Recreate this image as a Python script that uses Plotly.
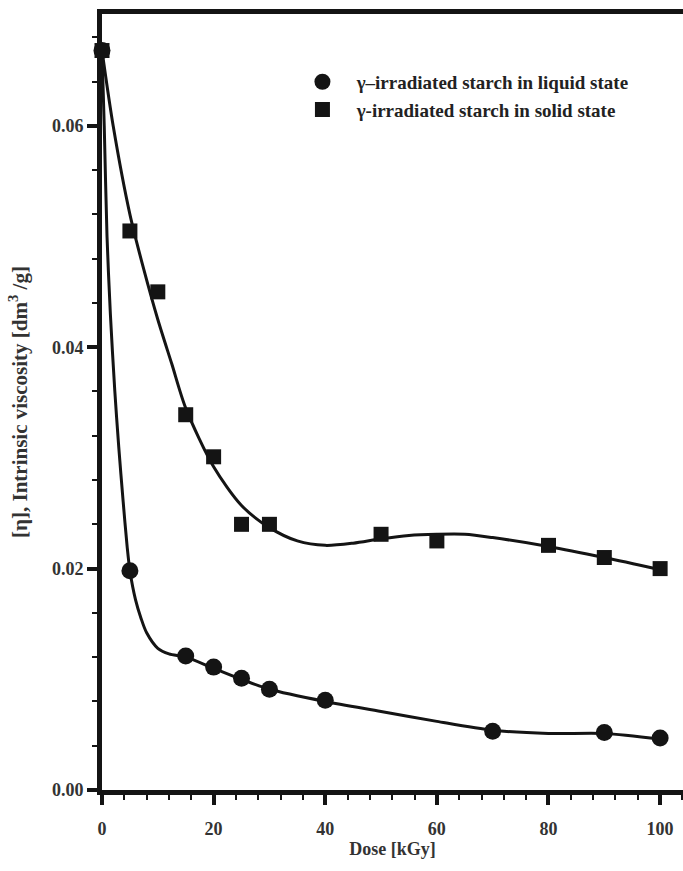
import plotly.graph_objects as go

# Measured points
dose_liquid = [0, 5, 15, 20, 25, 30, 40, 70, 90, 100]
visc_liquid = [0.0668, 0.0198, 0.0121, 0.0111, 0.0101, 0.0091, 0.0081, 0.0053, 0.0052, 0.0047]
dose_solid = [0, 5, 10, 15, 20, 25, 30, 50, 60, 80, 90, 100]
visc_solid = [0.0668, 0.0505, 0.0450, 0.0339, 0.0301, 0.0240, 0.0240, 0.0231, 0.0225, 0.0221, 0.0210, 0.0200]

# Fitted curves
fit_liquid_x = [0, 0.4, 0.9, 1.5, 2.3, 3.0, 3.8, 4.5, 5, 6, 7, 8, 10, 12, 15, 20, 25, 30, 40, 50, 60, 70, 80, 90, 100]
fit_liquid_y = [0.0668, 0.060, 0.050, 0.043, 0.036, 0.031, 0.026, 0.022, 0.0198, 0.0172, 0.0155, 0.0142, 0.0128,
                0.0123, 0.0120, 0.0110, 0.0100, 0.0091, 0.0080, 0.0071, 0.0062, 0.0054, 0.0051, 0.0051, 0.0046]
fit_solid_x = [0, 2, 5, 7.5, 10, 12.5, 15, 20, 25, 30, 35, 40, 45, 50, 55, 60, 65, 70, 80, 90, 100]
fit_solid_y = [0.0668, 0.060, 0.0520, 0.0470, 0.0425, 0.0385, 0.0345, 0.0292, 0.0257, 0.0237, 0.0225, 0.0221,
               0.0223, 0.0227, 0.0230, 0.0231, 0.0231, 0.0228, 0.0220, 0.0210, 0.0199]

legend_liquid = "γ–irradiated starch in liquid state"
legend_solid = "γ-irradiated starch in solid state"
x_title = "Dose [kGy]"
y_title = "[η], Intrinsic viscosity [dm<sup>3</sup> /g]"

INK = "#141414"
FONT = "Liberation Serif"

fig = go.Figure()
fig.add_trace(go.Scatter(x=fit_liquid_x, y=fit_liquid_y, mode="lines", line=dict(color=INK, width=3, shape="spline", smoothing=0.8),
                         showlegend=False, hoverinfo="skip", cliponaxis=False))
fig.add_trace(go.Scatter(x=fit_solid_x, y=fit_solid_y, mode="lines", line=dict(color=INK, width=3, shape="spline", smoothing=0.8),
                         showlegend=False, hoverinfo="skip", cliponaxis=False))
fig.add_trace(go.Scatter(x=dose_liquid, y=visc_liquid, mode="markers", name="&nbsp;&nbsp;&nbsp;<b>" + legend_liquid + "</b>",
                         marker=dict(symbol="circle", size=17, color=INK), cliponaxis=False))
fig.add_trace(go.Scatter(x=dose_solid, y=visc_solid, mode="markers", name="&nbsp;&nbsp;&nbsp;<b>" + legend_solid + "</b>",
                         marker=dict(symbol="square", size=15, color=INK), cliponaxis=False))

fig.update_layout(
    width=683, height=871,
    margin=dict(l=102, r=0, t=14, b=81),
    paper_bgcolor="white", plot_bgcolor="white",
    font=dict(family=FONT, color=INK),
    showlegend=True,
    legend=dict(x=0.345, y=0.937, xanchor="left", yanchor="top", bgcolor="rgba(0,0,0,0)",
                font=dict(family=FONT, size=19, color="#222"), itemwidth=30, tracegroupgap=0),
    xaxis=dict(range=[0, 104.1], showgrid=False, zeroline=False, showline=True, linewidth=5, linecolor=INK,
               mirror=True, ticks="outside", ticklen=10, tickwidth=4, tickcolor=INK,
               tick0=0, dtick=20, tickfont=dict(family=FONT, size=18, color="#333"),
               ticklabelstandoff=8,
               minor=dict(ticks="outside", ticklen=5, tickwidth=2, tickcolor=INK, dtick=4, tick0=0),
               title=dict(text="<b>" + x_title + "</b>", font=dict(family=FONT, size=18, color="#333"), standoff=6)),
    yaxis=dict(range=[0, 0.0701], showgrid=False, zeroline=False, showline=True, linewidth=5, linecolor=INK,
               mirror=False, ticks="outside", ticklen=10, tickwidth=4, tickcolor=INK,
               tick0=0, dtick=0.02, tickformat=".2f", tickfont=dict(family=FONT, size=18, color="#333"),
               minor=dict(ticks="outside", ticklen=5, tickwidth=2, tickcolor=INK, dtick=0.004, tick0=0),
               title=dict(text="<b>" + y_title + "</b>", font=dict(family=FONT, size=21, color="#333"), standoff=20)),
)
# bold tick labels
fig.update_xaxes(tickprefix="<b>", ticksuffix="</b>")
fig.update_yaxes(tickprefix="<b>", ticksuffix="</b>")

fig.write_html("out.html")
